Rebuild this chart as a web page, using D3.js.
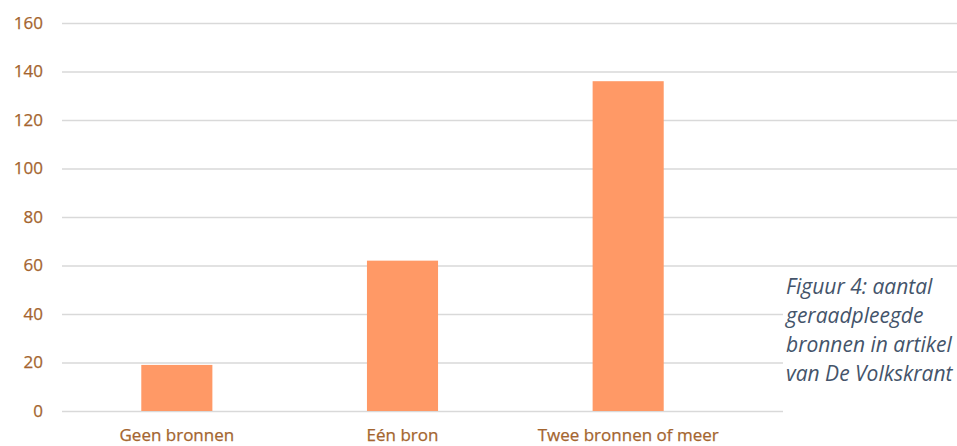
<!DOCTYPE html>
<html><head><meta charset="utf-8">
<script src="https://cdn.jsdelivr.net/npm/d3@7"></script>
<style>html,body{margin:0;padding:0;background:#fff;}svg{display:block;}</style>
</head><body>
<svg id="c" width="957" height="446"></svg>
<script>
const categories = ["Geen bronnen", "Eén bron", "Twee bronnen of meer"];
const values = [19, 62, 136];
const yTicks = [0, 20, 40, 60, 80, 100, 120, 140, 160];
const captionLines = ["Figuur 4: aantal", "geraadpleegde", "bronnen in artikel", "van De Volkskrant"];

const svg = d3.select("#c");
const W = 957, H = 446;
const font = "'Open Sans', 'Liberation Sans', sans-serif";
const textColor = "#A4652F";

const y = d3.scaleLinear().domain([0, 160]).range([411, 23]);
const x = d3.scaleBand().domain(categories).range([64, 741]).paddingInner(0.685).paddingOuter(0.3425);

// gridlines
const yAxis = d3.axisLeft(y).tickValues(yTicks).tickSize(-(W - 62)).tickPadding(19).tickFormat(d3.format("d"));
const gy = svg.append("g").attr("transform", "translate(62,0)").call(yAxis);
gy.select(".domain").remove();
gy.selectAll(".tick line").attr("stroke", "#D9D9D9").attr("stroke-width", 1.3);
gy.selectAll(".tick text").attr("fill", textColor).attr("font-family", font).attr("font-size", 17).attr("font-weight", 500).attr("stroke", textColor).attr("stroke-width", 0.25);

// bars
svg.append("g").selectAll("rect").data(values).join("rect")
  .attr("x", (d, i) => x(categories[i]))
  .attr("width", x.bandwidth())
  .attr("y", d => y(d))
  .attr("height", d => y(0) - y(d))
  .attr("fill", "#FF9966");

// x labels
const xAxis = d3.axisBottom(x).tickSize(0).tickPadding(0);
const gx = svg.append("g").attr("transform", "translate(0,429)").call(xAxis);
gx.select(".domain").remove();
gx.selectAll(".tick text").attr("fill", textColor).attr("font-family", font).attr("font-size", 17).attr("font-weight", 500).attr("stroke", textColor).attr("stroke-width", 0.25).attr("dy", "0.71em");

// caption box
svg.append("rect").attr("x", 783).attr("y", 270).attr("width", W - 783).attr("height", H - 270).attr("fill", "#fff");
svg.append("g").selectAll("text").data(captionLines).join("text")
  .attr("x", 786)
  .attr("y", (d, i) => 294 + i * 29)
  .attr("font-family", font)
  .attr("font-style", "italic")
  .attr("font-size", 21)
  .attr("fill", "#44546A")
  .text(d => d);
</script>
</body></html>
